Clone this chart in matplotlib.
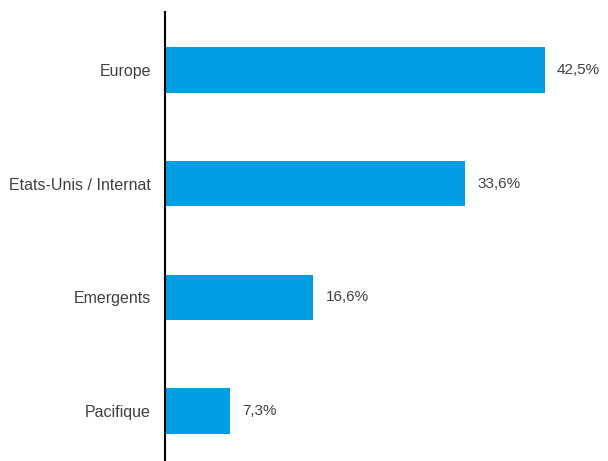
import matplotlib.pyplot as plt

plt.rcParams['font.family'] = ['Liberation Sans', 'DejaVu Sans']

categories = ["Europe", "Etats-Unis / Internat", "Emergents", "Pacifique"]
values = [42.5, 33.6, 16.6, 7.3]
value_labels = ["42,5%", "33,6%", "16,6%", "7,3%"]

fig = plt.figure(figsize=(6.08, 4.61), dpi=100)
ax = fig.add_axes([165 / 608, 0.0, 1 - 165 / 608, 1 - 12 / 461])

pos = list(range(len(categories)))
ax.barh(pos, values, height=0.4, color="#009FE3")
ax.set_xlim(0, 443 / 8.94)
ax.set_ylim(3.44, -0.51)

for p, v, lab in zip(pos, values, value_labels):
    ax.annotate(lab, (v, p), xytext=(12, 0), textcoords="offset pixels",
                va="center", ha="left", fontsize=11, color="#404040")

ax.set_yticks(pos)
ax.set_yticklabels(categories, fontsize=11.5, color="#404040")
ax.tick_params(axis="y", length=0, pad=10)
ax.set_xticks([])
for s in ["top", "right", "bottom"]:
    ax.spines[s].set_visible(False)
ax.spines["left"].set_linewidth(1.5)
ax.spines["left"].set_color("black")

fig.savefig("out.png", dpi=100)
